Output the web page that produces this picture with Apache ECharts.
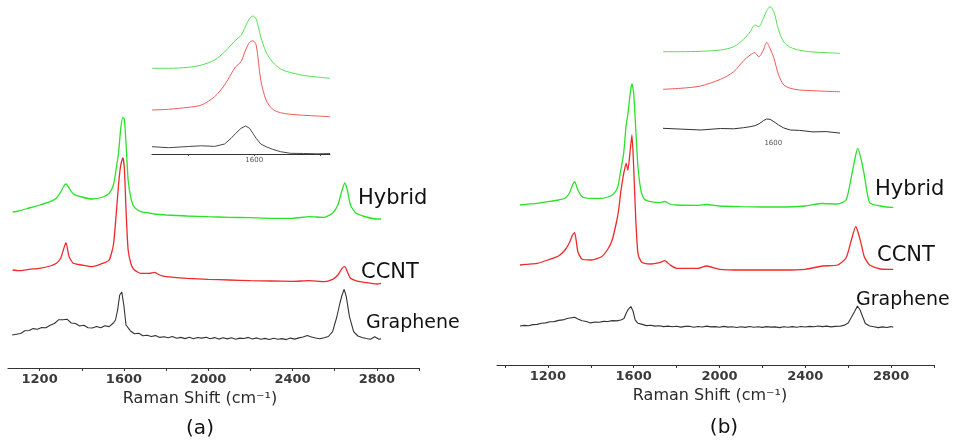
<!DOCTYPE html>
<html>
<head>
<meta charset="utf-8">
<script src="https://cdn.jsdelivr.net/npm/echarts@6/dist/echarts.min.js"></script>
<style>html,body{margin:0;padding:0;background:#fff}#c{width:953px;height:444px}</style>
</head>
<body>
<div id="c"></div>
<script>
// ---------- tick labels ----------
const tickLabels = [1200, 1600, 2000, 2400, 2800];
const ticksA = [1200, 1400, 1600, 1800, 2000, 2200, 2400, 2600, 2800, 3000];
const ticksB = [1000, 1200, 1400, 1600, 1800, 2000, 2200, 2400, 2600, 2800, 3000];
const insetTicksA = [1500, 1600, 1700];
const insetLabels = [1600];
const axisTitle = 'Raman Shift (cm\u207B\u00B9)';

// ---------- panel (a) main spectra (offset intensity, a.u.) ----------
const shiftA = [1072,1100,1150,1200,1250,1280,1300,1315,1325,1340,1360,1400,1450,1500,1530,1550,1565,1575,1585,1595,1602,1610,1620,1635,1650,1680,1720,1745,1770,1800,1900,2000,2100,2200,2300,2400,2480,2550,2590,2615,2635,2648,2660,2675,2700,2750,2800,2820];
const hybridA = [156,157,160,163,166.3,170,176,182,184,180,174,171,169,171,174.7,183,201.3,216.3,239.7,250.7,248.7,224.7,188,168,160.7,156.3,155,154,153.5,153,152,151.3,150.7,150.3,149.7,149.7,151.3,150.7,155,163,178,185,178,163,155,151,149,149];
const ccntA = [98,97.3,98.7,99.7,102,104.7,109.7,119.7,125.3,111.3,104.7,103,101.3,104.7,108,123,158,184.7,203,210.3,199.7,158,118,103,98,94.7,94.7,95.7,93,91.3,89.7,88.7,88,87.3,87,86.7,87.3,86.3,88.7,93,99.7,101.3,96.3,89.7,87.3,85.3,84,84.7];
const shiftGrA = [1070,1090,1110,1130,1150,1170,1190,1210,1230,1250,1270,1290,1310,1330,1350,1370,1390,1410,1430,1450,1470,1490,1510,1530,
  1550,1560,1570,1580,1590,1600,1610,1630,1650,1670,1690,1710,
  1730,1750,1770,1790,1810,1830,1850,1870,1890,1910,
  1930,1950,1970,1990,2010,2030,2050,2070,2090,2110,
  2130,2150,2170,2190,2210,2230,2250,2270,2290,2310,
  2330,2350,2370,2390,2410,2430,2450,2470,2490,2510,
  2530,2550,2570,
  2590,2610,2625,2635,2645,2655,2670,2690,2710,2730,2750,2770,2790,2810,2820];
const grapheneA = [33,33.8,34.5,37.2,37.5,39.4,38.8,40.5,40.2,42.8,44.5,48.2,48.2,48.8,45,44.5,42,42.8,40.2,40,41.5,40.2,42.3,41.4,
  45,48,58,73,76,62,43,37.3,34.2,34.8,32.3,32.8,
  31.5,32.4,30.6,31.3,30.2,31.5,29.8,30.6,29.4,30.7,
  29.2,30.5,29.9,30.8,29.3,30.4,28.9,30.2,29.1,30.3,
  28.8,29.9,29.5,30.6,29,30.1,28.7,29.6,28.5,29.8,
  28.7,29.4,28.4,29.9,28.9,30.1,31,32.5,31,30,
  29.2,30.2,31.5,
  36.3,51,65,73,78.7,71.3,51.3,36.3,32,30.5,29.5,28.8,31.3,28.7,29.2];

// ---------- panel (a) inset ----------
const insetShiftA = [1445,1470,1500,1520,1540,1555,1565,1572,1580,1587,1593,1598,1603,1610,1618,1628,1640,1655,1675,1695,1715];
const insetHybridA = [85.7,85.7,86.7,89,94,102,109,114,118.5,128,135.5,138,135,117,102,92,85,81.5,78.5,77,75.7];
const insetCcntA = [44,44.7,46.7,49,57.3,69,80,87.3,92.3,104,111.7,113.3,109,74,54,44.7,41.3,39.7,38.7,38,37.3];
const insetGrapheneA = [7.3,6.3,7.5,8.2,7.6,10,15.7,20.7,25.7,28,25.7,20.7,15.7,10,7.3,4.7,2.3,0.7,0.5,0.2,0.4];

// ---------- panel (b) main spectra ----------
const shiftB = [1070,1100,1150,1200,1250,1280,1300,1315,1325,1340,1360,1400,1450,1480,1500,1520,1530,1540,1550,1555,1565,1573,1585,1592,1600,1610,1620,1635,1650,1680,1720,1745,1770,1800,1900,1940,2000,2100,2200,2300,2400,2480,2550,2590,2615,2635,2645,2660,2675,2700,2750,2800,2810];
const hybridB = [160,160.7,161.7,163.3,165,166.7,171.7,180,183.3,175,168.3,166.7,166.7,168,170,175,181.7,195,206.7,215,240,251,273.3,281,272,235,198.3,173.3,165.7,163.3,162.3,163.5,161,160,159.7,160.5,159,158.3,158,158,159,161.5,161,165,188.3,210,216.7,206,190,162.3,159,157.7,157.7];
const ccntB = [100,100.7,101.7,105,109,115,122,130,132.3,113.3,105.7,105,108.3,116,125,143,155,173,187,193,201.7,195,217,230,198.3,145,111.7,103.3,101.7,101,102.3,104.3,100,96.7,96.7,99,95.7,95,95,95,95.7,99,100,107,125,138.3,133.3,121.7,108.3,100,96,95.7,95.7];
const shiftGrB = [1070,1090,1110,1130,1150,1170,1190,1210,1230,1250,1270,1290,1310,
  1325,1340,
  1360,1380,1400,1420,1440,1460,1480,1500,1520,1540,
  1555,1565,1575,1587,1597,1607,1620,
  1640,1660,1680,1700,1720,1740,1760,1780,1800,1820,
  1840,1860,1880,1900,1920,1940,1960,1980,2000,2020,
  2040,2060,2080,2100,2120,2140,2160,2180,2200,2220,
  2240,2260,2280,2300,2320,2340,2360,2380,2400,2420,
  2440,2460,2480,2500,2520,2540,2560,2580,
  2600,2615,2630,2643,2655,2668,2680,
  2700,2720,2740,2760,2780,2800,2810];
const grapheneB = [39,39.6,39.2,40.4,40.6,41.8,42.1,43.2,43.4,44.6,45.1,46.5,47.3,
  47.7,45.9,
  44.2,43.5,42.1,43,42.8,43.6,43.5,44.4,44.1,45,
  46.5,51.7,55.7,58.5,54,45.2,41.7,
  40.6,39.4,39.8,38.9,39.3,38.4,38.9,38.2,38.8,37.9,
  38.6,38.7,37.8,38.5,38,38.9,38.1,38.4,37.7,38.6,
  37.9,38.3,37.5,38.2,37.6,38.5,37.8,38.2,37.6,38.4,
  37.9,38.1,37.4,38.3,37.8,38.4,37.7,38.5,38,38.6,
  38.2,39,38.4,38.9,38.1,38.6,38.8,39.6,
  42,47.7,53.5,59,55.3,48,41.5,
  39,38.2,37.4,38.1,37.5,38.4,37.7];

// ---------- panel (b) inset ----------
const insetShiftB = [1433,1460,1490,1520,1540,1555,1565,1572,1578,1585,1590,1595,1601,1608,1616,1626,1640,1660,1680,1701];
const insetHybridB = [85.3,85.3,85.7,87,90.3,97.7,105.3,112,110.3,118.7,126.3,130.3,125,107,95,89.7,86.7,85,84.3,83.7];
const insetCcntB = [47.7,48.7,51,57.7,65.3,76.3,82,84.3,80.3,87,94.7,88.7,78.7,62,52,48.7,47,46.3,45.7,45.3];
const insetGrapheneB = [8.7,7.9,7,8.5,8.2,9.3,10.3,11.3,13,16.3,18,17.7,15.3,12,9,7,6.6,5.1,5.4,3.9];

// ---------- build ----------
const FONT = 'DejaVu Sans';
const GREEN = '#2ae22a', RED = '#ee2a2a', BLACK = '#333333';
const GREEN_L = '#55e055', RED_L = '#ee5a5a';
const plain = v => String(v);
const pair = (xs, ys) => xs.map((x, i) => [x, ys[i]]);

function mainX(grid, min, ticks, pad) {
  return {
    gridIndex: grid, type: 'value', min: min, max: 3000,
    axisLine: { show: true, onZero: false, lineStyle: { color: '#333', width: 1.2 } },
    axisTick: { show: true, customValues: ticks, length: 3, lineStyle: { color: '#333', width: 1 } },
    axisLabel: { customValues: tickLabels, formatter: plain, margin: 5, fontFamily: FONT, fontSize: 13, fontWeight: 'bold', color: '#3a3a3a' },
    splitLine: { show: false },
    name: axisTitle, nameLocation: 'middle', nameGap: 21,
    nameTextStyle: { fontFamily: FONT, fontSize: 16, color: '#2a2a2a', padding: [0, pad, 0, 0] }
  };
}
function insetX(grid, min, max, showLine) {
  return {
    gridIndex: grid, type: 'value', min: min, max: max,
    axisLine: { show: showLine, onZero: false, lineStyle: { color: '#333', width: 1 } },
    axisTick: { show: showLine, customValues: insetTicksA, length: 2, lineStyle: { color: '#444' } },
    axisLabel: { customValues: insetLabels, formatter: plain, margin: 3, fontFamily: FONT, fontSize: 7, color: '#555' },
    splitLine: { show: false }
  };
}
function yAx(grid, max) {
  return { gridIndex: grid, type: 'value', min: 0, max: max, show: false };
}
function line(idx, data, color, width, smooth) {
  return {
    type: 'line', xAxisIndex: idx, yAxisIndex: idx, data: data,
    showSymbol: false, symbol: 'none', smooth: smooth, silent: true, clip: false,
    lineStyle: { color: color, width: width }, animation: false
  };
}
function label(text, x, y, size) {
  return { type: 'text', x: x, y: y, silent: true,
    style: { text: text, fontFamily: FONT, fontSize: size, fill: '#111', align: 'left', verticalAlign: 'middle' } };
}

const chart = echarts.init(document.getElementById('c'), null, { renderer: 'canvas' });
chart.setOption({
  backgroundColor: '#ffffff',
  animation: false,
  grid: [
    { left: 8, top: 0, width: 411, height: 368, containLabel: false, outerBoundsMode: 'none' },
    { left: 152, top: 0, width: 178, height: 154, containLabel: false, outerBoundsMode: 'none' },
    { left: 497, top: 0, width: 437, height: 365, containLabel: false, outerBoundsMode: 'none' },
    { left: 663, top: 0, width: 177, height: 137, containLabel: false, outerBoundsMode: 'none' }
  ],
  xAxis: [
    mainX(0, 1050, ticksA, 27),
    insetX(1, 1445, 1715, true),
    mainX(2, 963, ticksB, 11),
    insetX(3, 1433, 1701, false)
  ],
  yAxis: [yAx(0, 368), yAx(1, 154), yAx(2, 365), yAx(3, 137)],
  series: [
    line(0, pair(shiftA, hybridA), GREEN, 1.3, 0.2),
    line(0, pair(shiftA, ccntA), RED, 1.3, 0.2),
    line(0, pair(shiftGrA, grapheneA), BLACK, 1.1, false),
    line(1, pair(insetShiftA, insetHybridA), GREEN_L, 1, 0.3),
    line(1, pair(insetShiftA, insetCcntA), RED_L, 1, 0.3),
    line(1, pair(insetShiftA, insetGrapheneA), BLACK, 0.9, false),
    line(2, pair(shiftB, hybridB), GREEN, 1.3, 0.2),
    line(2, pair(shiftB, ccntB), RED, 1.3, 0.2),
    line(2, pair(shiftGrB, grapheneB), BLACK, 1.1, false),
    line(3, pair(insetShiftB, insetHybridB), GREEN_L, 1, 0.3),
    line(3, pair(insetShiftB, insetCcntB), RED_L, 1, 0.3),
    line(3, pair(insetShiftB, insetGrapheneB), BLACK, 1, false)
  ],
  graphic: [
    label('Hybrid', 358, 199, 21),
    label('CCNT', 361, 273, 21),
    label('Graphene', 366, 323, 19),
    label('Hybrid', 875, 190, 21),
    label('CCNT', 877, 256, 21),
    label('Graphene', 856, 300, 19),
    { type: 'text', x: 200, y: 429, silent: true, style: { text: '(a)', fontFamily: FONT, fontSize: 20, fill: '#111', align: 'center', verticalAlign: 'middle' } },
    { type: 'text', x: 724, y: 428, silent: true, style: { text: '(b)', fontFamily: FONT, fontSize: 20, fill: '#111', align: 'center', verticalAlign: 'middle' } }
  ]
});
</script>
</body>
</html>
